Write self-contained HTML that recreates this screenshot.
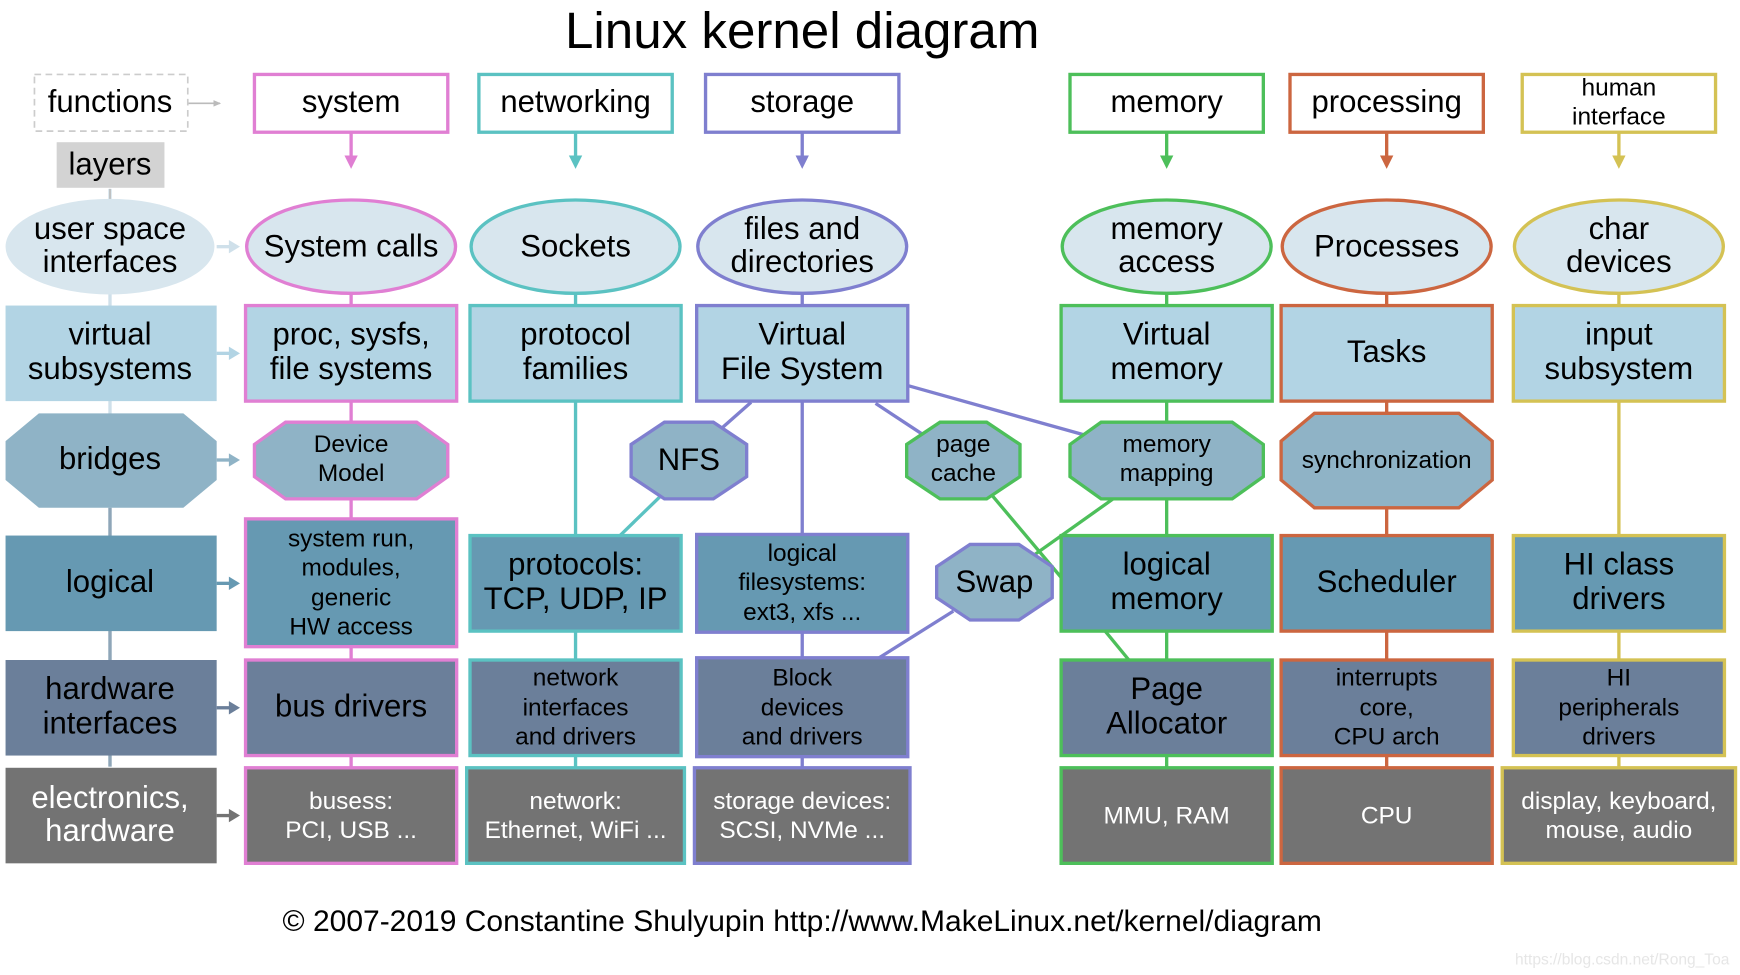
<!DOCTYPE html>
<html><head><meta charset="utf-8"><style>
html,body{margin:0;padding:0;background:#fff;}
svg{display:block;}
text{font-family:"Liberation Sans",Arial,sans-serif;fill:#000;text-anchor:middle;}
.w{fill:#fff;}
</style></head><body>
<svg width="1740" height="975" viewBox="0 0 1566 877.5" xmlns="http://www.w3.org/2000/svg">
<defs>
<marker id="ag" markerWidth="8" markerHeight="8" refX="6" refY="4" orient="auto" markerUnits="userSpaceOnUse"><path d="M0,1 L7,4 L0,7z" fill="#bbb"/></marker>
</defs>
<text x="722" y="43" font-size="46">Linux kernel diagram</text>

<!-- left column connectors -->
<line x1="99" y1="170" x2="99" y2="690" stroke="#cfe0ea" stroke-width="3"/>
<line x1="99" y1="457" x2="99" y2="690" stroke="#8fa6b8" stroke-width="3"/>
<line x1="169" y1="93" x2="198" y2="93" stroke="#bbb" stroke-width="1.5" marker-end="url(#ag)"/>
<line x1="99" y1="170" x2="99" y2="180" stroke="#bbb" stroke-width="1.5"/>

<!-- left column -->
<rect x="31" y="67" width="138" height="51" fill="#fff" stroke="#ccc" stroke-width="1.5" stroke-dasharray="6,4"/>
<text x="99" y="101" font-size="28">functions</text>
<rect x="51" y="128" width="97" height="41" fill="#d3d3d3"/>
<text x="99" y="157" font-size="28">layers</text>
<ellipse cx="99" cy="222" rx="94" ry="43" fill="#d8e6ee"/>
<text x="99" y="215" font-size="28">user space</text><text x="99" y="245" font-size="28">interfaces</text>
<rect x="5" y="275" width="190" height="86" fill="#b2d4e4"/>
<text x="99" y="310" font-size="28">virtual</text><text x="99" y="341" font-size="28">subsystems</text>
<polygon points="35,372 165,372 195,397 195,432 165,457 35,457 5,432 5,397" fill="#8fb3c6"/>
<text x="99" y="422" font-size="28">bridges</text>
<rect x="5" y="482" width="190" height="86" fill="#6699b2"/>
<text x="99" y="533" font-size="28">logical</text>
<rect x="5" y="594" width="190" height="86" fill="#6b7f9a"/>
<text x="99" y="629" font-size="28">hardware</text><text x="99" y="660" font-size="28">interfaces</text>
<rect x="5" y="691" width="190" height="86" fill="#737373"/>
<text x="99" y="727" font-size="28" class="w">electronics,</text><text x="99" y="757" font-size="28" class="w">hardware</text>

<!-- layer arrows -->
<g stroke-width="3">
<line x1="195" y1="222" x2="208" y2="222" stroke="#cfe0ea"/><path d="M206,216 L216,222 L206,228z" fill="#cfe0ea"/>
<line x1="195" y1="318" x2="208" y2="318" stroke="#b2d4e4"/><path d="M206,312 L216,318 L206,324z" fill="#b2d4e4"/>
<line x1="195" y1="414" x2="208" y2="414" stroke="#8fb3c6"/><path d="M206,408 L216,414 L206,420z" fill="#8fb3c6"/>
<line x1="195" y1="525" x2="208" y2="525" stroke="#6699b2"/><path d="M206,519 L216,525 L206,531z" fill="#6699b2"/>
<line x1="195" y1="637" x2="208" y2="637" stroke="#6b7f9a"/><path d="M206,631 L216,637 L206,643z" fill="#6b7f9a"/>
<line x1="195" y1="734" x2="208" y2="734" stroke="#737373"/><path d="M206,728 L216,734 L206,740z" fill="#737373"/>
</g>

<!-- cross connectors -->
<g stroke-width="3">
<line x1="817" y1="347" x2="985" y2="394" stroke="#7f7fcf"/>
<line x1="788" y1="363" x2="832" y2="392" stroke="#7f7fcf"/>
<line x1="676" y1="362" x2="650" y2="385" stroke="#7f7fcf"/>
<line x1="594" y1="447" x2="558" y2="482" stroke="#5bc2c2"/>
<line x1="893" y1="446" x2="957" y2="522" stroke="#4dbf5a"/>
<line x1="1006" y1="446" x2="930" y2="500" stroke="#4dbf5a"/>
<line x1="858" y1="550" x2="788" y2="594" stroke="#7f7fcf"/>
<line x1="993" y1="566" x2="1016" y2="594" stroke="#4dbf5a"/>
</g>

<!-- column vertical lines + header arrows -->
<g stroke-width="3">
<line x1="316" y1="119" x2="316" y2="143" stroke="#e07fd3"/><path d="M310,140 L316,152 L322,140z" fill="#e07fd3"/>
<line x1="316" y1="265" x2="316" y2="690" stroke="#e07fd3"/>
<line x1="518" y1="119" x2="518" y2="143" stroke="#5bc2c2"/><path d="M512,140 L518,152 L524,140z" fill="#5bc2c2"/>
<line x1="518" y1="265" x2="518" y2="690" stroke="#5bc2c2"/>
<line x1="722" y1="119" x2="722" y2="143" stroke="#7f7fcf"/><path d="M716,140 L722,152 L728,140z" fill="#7f7fcf"/>
<line x1="722" y1="265" x2="722" y2="690" stroke="#7f7fcf"/>
<line x1="1050" y1="119" x2="1050" y2="143" stroke="#4dbf5a"/><path d="M1044,140 L1050,152 L1056,140z" fill="#4dbf5a"/>
<line x1="1050" y1="265" x2="1050" y2="690" stroke="#4dbf5a"/>
<line x1="1248" y1="119" x2="1248" y2="143" stroke="#cc6640"/><path d="M1242,140 L1248,152 L1254,140z" fill="#cc6640"/>
<line x1="1248" y1="265" x2="1248" y2="690" stroke="#cc6640"/>
<line x1="1457" y1="119" x2="1457" y2="143" stroke="#d4c254"/><path d="M1451,140 L1457,152 L1463,140z" fill="#d4c254"/>
<line x1="1457" y1="265" x2="1457" y2="690" stroke="#d4c254"/>
</g>

<!-- headers -->
<g fill="#fff" stroke-width="3">
<rect x="229" y="67" width="174" height="52" stroke="#e07fd3"/>
<rect x="431" y="67" width="174" height="52" stroke="#5bc2c2"/>
<rect x="635" y="67" width="174" height="52" stroke="#7f7fcf"/>
<rect x="963" y="67" width="174" height="52" stroke="#4dbf5a"/>
<rect x="1161" y="67" width="174" height="52" stroke="#cc6640"/>
<rect x="1370" y="67" width="174" height="52" stroke="#d4c254"/>
</g>
<text x="316" y="101" font-size="28">system</text>
<text x="518" y="101" font-size="28">networking</text>
<text x="722" y="101" font-size="28">storage</text>
<text x="1050" y="101" font-size="28">memory</text>
<text x="1248" y="101" font-size="28">processing</text>
<text x="1457" y="86" font-size="22">human</text><text x="1457" y="112" font-size="22">interface</text>

<!-- system column -->
<g stroke="#e07fd3" stroke-width="3">
<ellipse cx="316" cy="222" rx="94" ry="42" fill="#d8e6ee"/>
<rect x="221" y="275" width="190" height="86" fill="#b2d4e4"/>
<polygon points="257,380 375,380 403,400 403,429 375,449 257,449 229,429 229,400" fill="#8fb3c6"/>
<rect x="221" y="467" width="190" height="115" fill="#6699b2"/>
<rect x="221" y="594" width="190" height="86" fill="#6b7f9a"/>
<rect x="221" y="691" width="190" height="86" fill="#737373"/>
</g>
<text x="316" y="231" font-size="28">System calls</text>
<text x="316" y="310" font-size="28">proc, sysfs,</text><text x="316" y="341" font-size="28">file systems</text>
<text x="316" y="407" font-size="22">Device</text><text x="316" y="433" font-size="22">Model</text>
<text x="316" y="492" font-size="22">system run,</text><text x="316" y="518" font-size="22">modules,</text><text x="316" y="545" font-size="22">generic</text><text x="316" y="571" font-size="22">HW access</text>
<text x="316" y="645" font-size="28">bus drivers</text>
<text x="316" y="728" font-size="22" class="w">busess:</text><text x="316" y="754" font-size="22" class="w">PCI, USB ...</text>

<!-- networking -->
<g stroke="#5bc2c2" stroke-width="3">
<ellipse cx="518" cy="222" rx="94" ry="42" fill="#d8e6ee"/>
<rect x="423" y="275" width="190" height="86" fill="#b2d4e4"/>
<rect x="423" y="482" width="190" height="86" fill="#6699b2"/>
<rect x="423" y="594" width="190" height="86" fill="#6b7f9a"/>
<rect x="420" y="691" width="196" height="86" fill="#737373"/>
</g>
<text x="518" y="231" font-size="28">Sockets</text>
<text x="518" y="310" font-size="28">protocol</text><text x="518" y="341" font-size="28">families</text>
<text x="518" y="517" font-size="28">protocols:</text><text x="518" y="548" font-size="28">TCP, UDP, IP</text>
<text x="518" y="617" font-size="22">network</text><text x="518" y="644" font-size="22">interfaces</text><text x="518" y="670" font-size="22">and drivers</text>
<text x="518" y="728" font-size="22" class="w">network:</text><text x="518" y="754" font-size="22" class="w">Ethernet, WiFi ...</text>

<!-- storage -->
<g stroke="#7f7fcf" stroke-width="3">
<ellipse cx="722" cy="222" rx="94" ry="42" fill="#d8e6ee"/>
<rect x="627" y="275" width="190" height="86" fill="#b2d4e4"/>
<polygon points="598,380 642,380 672,400 672,429 642,449 598,449 568,429 568,400" fill="#8fb3c6"/>
<rect x="627" y="481" width="190" height="88" fill="#6699b2"/>
<rect x="627" y="592" width="190" height="89" fill="#6b7f9a"/>
<rect x="625" y="691" width="194" height="86" fill="#737373"/>
<polygon points="873,490 917,490 947,510 947,538 917,558 873,558 843,538 843,510" fill="#8fb3c6"/>
</g>
<text x="722" y="215" font-size="28">files and</text><text x="722" y="245" font-size="28">directories</text>
<text x="722" y="310" font-size="28">Virtual</text><text x="722" y="341" font-size="28">File System</text>
<text x="620" y="423" font-size="28">NFS</text>
<text x="722" y="505" font-size="22">logical</text><text x="722" y="531" font-size="22">filesystems:</text><text x="722" y="558" font-size="22">ext3, xfs ...</text>
<text x="722" y="617" font-size="22">Block</text><text x="722" y="644" font-size="22">devices</text><text x="722" y="670" font-size="22">and drivers</text>
<text x="722" y="728" font-size="22" class="w">storage devices:</text><text x="722" y="754" font-size="22" class="w">SCSI, NVMe ...</text>
<text x="895" y="533" font-size="28">Swap</text>

<!-- memory -->
<g stroke="#4dbf5a" stroke-width="3">
<ellipse cx="1050" cy="222" rx="94" ry="42" fill="#d8e6ee"/>
<rect x="955" y="275" width="190" height="86" fill="#b2d4e4"/>
<polygon points="846,380 888,380 918,400 918,429 888,449 846,449 816,429 816,400" fill="#8fb3c6"/>
<polygon points="991,380 1109,380 1137,400 1137,429 1109,449 991,449 963,429 963,400" fill="#8fb3c6"/>
<rect x="955" y="482" width="190" height="86" fill="#6699b2"/>
<rect x="955" y="594" width="190" height="86" fill="#6b7f9a"/>
<rect x="955" y="691" width="190" height="86" fill="#737373"/>
</g>
<text x="1050" y="215" font-size="28">memory</text><text x="1050" y="245" font-size="28">access</text>
<text x="1050" y="310" font-size="28">Virtual</text><text x="1050" y="341" font-size="28">memory</text>
<text x="867" y="407" font-size="22">page</text><text x="867" y="433" font-size="22">cache</text>
<text x="1050" y="407" font-size="22">memory</text><text x="1050" y="433" font-size="22">mapping</text>
<text x="1050" y="517" font-size="28">logical</text><text x="1050" y="548" font-size="28">memory</text>
<text x="1050" y="629" font-size="28">Page</text><text x="1050" y="660" font-size="28">Allocator</text>
<text x="1050" y="741" font-size="22" class="w">MMU, RAM</text>

<!-- processing -->
<g stroke="#cc6640" stroke-width="3">
<ellipse cx="1248" cy="222" rx="94" ry="42" fill="#d8e6ee"/>
<rect x="1153" y="275" width="190" height="86" fill="#b2d4e4"/>
<polygon points="1183,372 1313,372 1343,397 1343,432 1313,457 1183,457 1153,432 1153,397" fill="#8fb3c6"/>
<rect x="1153" y="482" width="190" height="86" fill="#6699b2"/>
<rect x="1153" y="594" width="190" height="86" fill="#6b7f9a"/>
<rect x="1153" y="691" width="190" height="86" fill="#737373"/>
</g>
<text x="1248" y="231" font-size="28">Processes</text>
<text x="1248" y="326" font-size="28">Tasks</text>
<text x="1248" y="421" font-size="22">synchronization</text>
<text x="1248" y="533" font-size="28">Scheduler</text>
<text x="1248" y="617" font-size="22">interrupts</text><text x="1248" y="644" font-size="22">core,</text><text x="1248" y="670" font-size="22">CPU arch</text>
<text x="1248" y="741" font-size="22" class="w">CPU</text>

<!-- human interface -->
<g stroke="#d4c254" stroke-width="3">
<ellipse cx="1457" cy="222" rx="94" ry="42" fill="#d8e6ee"/>
<rect x="1362" y="275" width="190" height="86" fill="#b2d4e4"/>
<rect x="1362" y="482" width="190" height="86" fill="#6699b2"/>
<rect x="1362" y="594" width="190" height="86" fill="#6b7f9a"/>
<rect x="1352" y="691" width="210" height="86" fill="#737373"/>
</g>
<text x="1457" y="215" font-size="28">char</text><text x="1457" y="245" font-size="28">devices</text>
<text x="1457" y="310" font-size="28">input</text><text x="1457" y="341" font-size="28">subsystem</text>
<text x="1457" y="517" font-size="28">HI class</text><text x="1457" y="548" font-size="28">drivers</text>
<text x="1457" y="617" font-size="22">HI</text><text x="1457" y="644" font-size="22">peripherals</text><text x="1457" y="670" font-size="22">drivers</text>
<text x="1457" y="728" font-size="22" class="w">display, keyboard,</text><text x="1457" y="754" font-size="22" class="w">mouse, audio</text>

<text x="722" y="838" font-size="27">© 2007-2019 Constantine Shulyupin http://www.MakeLinux.net/kernel/diagram</text>
<text x="1460" y="868" font-size="14" style="fill:#e6e6e6">https://blog.csdn.net/Rong_Toa</text>
</svg>
</body></html>
